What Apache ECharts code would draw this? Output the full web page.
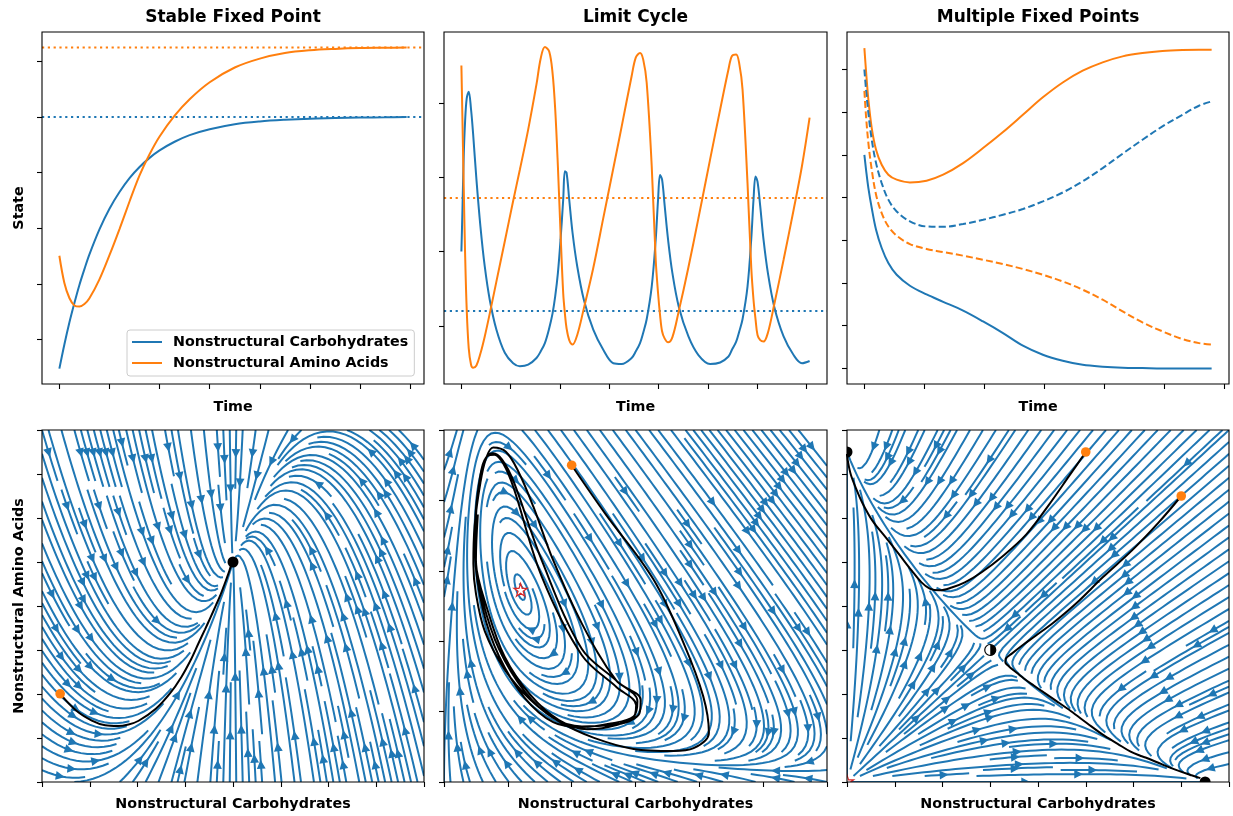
<!DOCTYPE html>
<html>
<head>
<meta charset="utf-8">
<script src="https://cdn.jsdelivr.net/npm/echarts@6/dist/echarts.min.js"></script>
<style>
  html, body { margin: 0; padding: 0; background: #ffffff; }
  #chart { width: 1233px; height: 816px; }
</style>
</head>
<body>
<div id="chart"></div>
<script>
// ---------- Stable fixed point: time course (time in tick units) ----------
const stableTime  = [0, 0.1, 0.2, 0.3, 0.4, 0.5, 0.6, 0.8, 1.0, 1.2, 1.4, 1.6, 1.8, 2.0, 2.3, 2.6, 3.0, 3.5, 4.0, 4.5, 5.0, 5.5, 6.0, 6.5, 6.93];
const stableCarb  = [0.095, 0.182, 0.261, 0.331, 0.396, 0.453, 0.506, 0.596, 0.670, 0.730, 0.780, 0.820, 0.853, 0.880, 0.911, 0.935, 0.956, 0.974, 0.984, 0.990, 0.994, 0.996, 0.998, 0.999, 1.0];
const stableAmino = [0.501, 0.403, 0.349, 0.322, 0.318, 0.327, 0.348, 0.416, 0.503, 0.597, 0.696, 0.790, 0.866, 0.930, 1.005, 1.064, 1.125, 1.178, 1.210, 1.230, 1.240, 1.245, 1.248, 1.249, 1.250];
const stableFixed = [1.0, 1.25];
const stableRates = [0.594, 1.482];

// ---------- Limit cycle: time course ----------
const cycleTime = [0, 0.020, 0.047, 0.075, 0.108, 0.149, 0.196, 0.237, 0.305, 0.386, 0.474, 0.576, 0.711, 0.881, 1.050, 1.186, 1.355, 1.524, 1.61,
  1.694, 1.782, 1.850, 1.904, 1.958, 2.012, 2.066, 2.100, 2.134, 2.188, 2.256, 2.351, 2.486, 2.676, 2.879, 3.083, 3.252, 3.455, 3.54, 3.625, 3.69, 3.760,
  3.862, 3.943, 3.991, 4.031, 4.072, 4.126, 4.194, 4.282, 4.411, 4.607, 4.810, 5.047, 5.251, 5.420, 5.49, 5.576, 5.64, 5.705, 5.806, 5.881, 5.928, 5.969,
  6.009, 6.064, 6.131, 6.220, 6.348, 6.538, 6.741, 6.911, 7.066];
const cycleCarb = [2.00, 2.52, 3.28, 3.75, 4.06, 4.15, 3.91, 3.59, 2.97, 2.34, 1.80, 1.35, 0.95, 0.64, 0.50, 0.46, 0.48, 0.57, 0.66,
  0.77, 0.97, 1.17, 1.40, 1.71, 2.16, 2.70, 3.08, 3.06, 2.70, 2.25, 1.80, 1.35, 0.95, 0.68, 0.50, 0.49, 0.57, 0.66, 0.77, 0.91, 1.09,
  1.53, 2.16, 2.70, 3.03, 2.97, 2.61, 2.16, 1.71, 1.26, 0.86, 0.61, 0.49, 0.51, 0.59, 0.68, 0.79, 0.93, 1.09, 1.53, 2.16, 2.70, 3.01,
  2.94, 2.61, 2.16, 1.71, 1.26, 0.86, 0.61, 0.50, 0.53];
const cycleAmino = [4.50, 3.82, 2.88, 1.98, 1.22, 0.70, 0.48, 0.44, 0.47, 0.63, 0.86, 1.17, 1.60, 2.14, 2.68, 3.10, 3.64, 4.25, 4.60,
  4.75, 4.69, 4.40, 3.91, 3.15, 2.25, 1.44, 1.17, 0.97, 0.81, 0.75, 0.88, 1.24, 1.78, 2.45, 3.12, 3.68, 4.36, 4.61, 4.67, 4.58, 4.27,
  3.15, 1.89, 1.44, 1.15, 0.93, 0.83, 0.78, 0.85, 1.20, 1.79, 2.45, 3.24, 3.91, 4.45, 4.63, 4.65, 4.52, 4.18, 2.92, 1.80, 1.35, 1.09,
  0.88, 0.81, 0.79, 0.91, 1.29, 1.89, 2.56, 3.15, 3.80];
const cycleFixed = [1.2, 2.72];
const cycleParams = [0.08, 0.6, 2];

// ---------- Multiple fixed points: two runs ----------
const multiTime   = [0, 0.028, 0.067, 0.123, 0.195, 0.289, 0.400, 0.539, 0.760, 1.038, 1.315, 1.648, 1.981, 2.314, 2.646, 2.979, 3.311, 3.644, 3.977, 4.310, 4.642, 4.975, 5.308, 5.585, 5.796];
const multiCarbA  = [1.25, 1.163, 1.056, 0.939, 0.812, 0.705, 0.617, 0.548, 0.484, 0.433, 0.390, 0.338, 0.275, 0.207, 0.133, 0.080, 0.045, 0.021, 0.010, 0.004, 0.002, 0, 0, 0, 0];
const multiAminoA = [1.875, 1.739, 1.573, 1.407, 1.280, 1.192, 1.134, 1.105, 1.089, 1.099, 1.134, 1.202, 1.290, 1.384, 1.485, 1.587, 1.674, 1.743, 1.792, 1.827, 1.846, 1.858, 1.864, 1.866, 1.866];
const multiCarbB  = [1.75, 1.632, 1.495, 1.339, 1.202, 1.085, 0.988, 0.919, 0.861, 0.831, 0.829, 0.845, 0.870, 0.900, 0.933, 0.978, 1.030, 1.095, 1.173, 1.257, 1.339, 1.417, 1.485, 1.538, 1.563];
const multiAminoB = [1.625, 1.475, 1.319, 1.163, 1.017, 0.909, 0.831, 0.777, 0.728, 0.699, 0.681, 0.660, 0.636, 0.611, 0.582, 0.548, 0.509, 0.461, 0.402, 0.334, 0.269, 0.217, 0.172, 0.148, 0.139];
const multiTailCarb  = [1.65, 1.73, 1.80, 1.85];
const multiTailAmino = [0.100, 0.066, 0.040, 0.022];
const multiNodes  = [[0, 1.875], [1.875, 0]];
const multiSaddle = [0.75, 0.75];
const multiOrigin = [0, 0];
const multiParams = [1.875, 1.5];

// ---------- tick positions ----------
const ticksStableT = [0, 1, 2, 3, 4, 5, 6, 7];
const ticksStableY = [0.2, 0.4, 0.6, 0.8, 1.0, 1.2];
const ticksCycleT  = [0, 1, 2, 3, 4, 5, 6, 7];
const ticksCycleY  = [1, 2, 3, 4];
const ticksMultiT  = [0, 1, 2, 3, 4, 5, 6];
const ticksQuarter = [0, 0.25, 0.5, 0.75, 1, 1.25, 1.5, 1.75, 2];
const ticksCycleX  = [0, 1, 2, 3, 4, 5, 6];
const ticksCycleA  = [0, 1, 2, 3, 4, 5];

const BLUE = '#1f77b4', ORANGE = '#ff7f0e', RED = '#d62728';
const FONT = 'DejaVu Sans';
const LABEL_SIZE = 14.3;

// ---------- rate equations [dC/dt, dA/dt] ----------
function stableField(c, a) {
  return [stableRates[0] * (stableFixed[0] - c),
          stableRates[1] * (c - stableFixed[0]) - (a - stableFixed[1])];
}
function cycleField(c, a) {
  const [k, b, s] = cycleParams;
  const q = c * c * a / (s * s);
  return [-c + k * a + q, s * b - k * a - q];
}
function multiField(c, a) {
  const [K, r] = multiParams;
  return [c * (1 - (c + r * a) / K), a * (1 - (a + r * c) / K)];
}

// ---------- streamline tracer (mask-based, one arrow per line) ----------
function streamplot(field, xr, yr, density) {
  const n = Math.round(30 * density);
  const mask = new Uint8Array(n * n);
  const maxds = Math.min(1 / n, 0.1), maxerr = 0.003, maxlen = 4, minlen = 0.1;
  const sx = xr[1] - xr[0], sy = yr[1] - yr[0];
  const inside = (a, b) => a >= 0 && a <= 1 && b >= 0 && b <= 1;
  function dir(a, b, sgn) {
    const f = field(xr[0] + a * sx, yr[0] + b * sy);
    const u = f[0] / sx, v = f[1] / sy, sp = Math.hypot(u, v);
    if (!(sp > 0) || !isFinite(sp)) return null;
    return [sgn * u / sp, sgn * v / sp];
  }
  let traj = [], cur = [-1, -1];
  function visit(a, b) {
    const xm = Math.round(a * (n - 1)), ym = Math.round(b * (n - 1));
    if (xm === cur[0] && ym === cur[1]) return true;
    const k = ym * n + xm;
    if (mask[k]) return false;
    mask[k] = 1; traj.push(k); cur = [xm, ym];
    return true;
  }
  function rk12(a, b, sgn) {
    const out = [];
    let ds = maxds, total = 0, guard = 0;
    while (inside(a, b) && guard++ < 20000) {
      out.push([a, b]);
      const k1 = dir(a, b, sgn);
      if (!k1) break;
      const a1 = a + ds * k1[0], b1 = b + ds * k1[1];
      if (!inside(a1, b1)) {
        const ta = k1[0] > 0 ? (1 - a) / k1[0] : (k1[0] < 0 ? -a / k1[0] : Infinity);
        const tb = k1[1] > 0 ? (1 - b) / k1[1] : (k1[1] < 0 ? -b / k1[1] : Infinity);
        const s = Math.min(ta, tb);
        out.push([a + s * k1[0], b + s * k1[1]]);
        total += s;
        break;
      }
      const k2 = dir(a1, b1, sgn);
      if (!k2) break;
      const dx1 = ds * k1[0], dy1 = ds * k1[1];
      const dx2 = ds * 0.5 * (k1[0] + k2[0]), dy2 = ds * 0.5 * (k1[1] + k2[1]);
      const err = Math.hypot(dx2 - dx1, dy2 - dy1);
      if (err < maxerr) {
        a += dx2; b += dy2;
        if (!inside(a, b) || !visit(a, b)) break;
        if (total + ds > maxlen) break;
        total += ds;
      }
      ds = err === 0 ? maxds : Math.min(maxds, 0.85 * ds * Math.sqrt(maxerr / err));
    }
    return [total, out];
  }
  function integrate(a0, b0) {
    traj = []; cur = [-1, -1];
    if (!visit(a0, b0)) return null;
    const [s1, back] = rk12(a0, b0, -1);
    cur = [Math.round(a0 * (n - 1)), Math.round(b0 * (n - 1))];
    const [s2, fwd] = rk12(a0, b0, 1);
    if (s1 + s2 > minlen) return back.reverse().concat(fwd.slice(1));
    traj.forEach(k => { mask[k] = 0; });
    return null;
  }
  const raw = [];
  let x = 0, y = 0, xf = 0, yf = 1, xl = n - 1, yl = n - 1, d = 0;
  for (let i = 0; i < n * n; i++) {
    if (!mask[y * n + x]) {
      const t = integrate(x / (n - 1), y / (n - 1));
      if (t && t.length > 1) raw.push(t);
    }
    if (d === 0) { x++; if (x >= xl) { xl--; d = 1; } }
    else if (d === 1) { y++; if (y >= yl) { yl--; d = 2; } }
    else if (d === 2) { x--; if (x <= xf) { xf++; d = 3; } }
    else { y--; if (y <= yf) { yf++; d = 0; } }
  }
  return raw.map(t => {
    const pts = t.map(p => [xr[0] + p[0] * sx, yr[0] + p[1] * sy]);
    const cum = [];
    let acc = 0;
    for (let i = 1; i < pts.length; i++) {
      acc += Math.hypot(pts[i][0] - pts[i - 1][0], pts[i][1] - pts[i - 1][1]);
      cum.push(acc);
    }
    let k = cum.findIndex(s => s >= acc / 2);
    if (k < 0) k = 0;
    const tail = pts[k];
    const nxt = pts[Math.min(k + 1, pts.length - 1)];
    const head = [(tail[0] + nxt[0]) / 2, (tail[1] + nxt[1]) / 2];
    return { pts, tail, head };
  });
}

const streamStable = streamplot(stableField, [0, 2], [0, 2], 2);
const streamCycle  = streamplot(cycleField, [0, 6], [0, 5], 2);
const streamMulti  = streamplot(multiField, [0, 2], [0, 2], 2);

// ---------- series helpers ----------
function streamSeries(gi, lines) {
  return {
    type: 'custom', xAxisIndex: gi, yAxisIndex: gi, clip: true, silent: true, z: 2,
    data: lines.map((l, i) => [l.head[0], l.head[1], i]),
    encode: { x: 0, y: 1 },
    renderItem(params, api) {
      const l = lines[api.value(2)];
      const pts = l.pts.map(p => api.coord(p));
      const t = api.coord(l.tail), h = api.coord(l.head);
      let dx = h[0] - t[0], dy = h[1] - t[1];
      const len = Math.hypot(dx, dy);
      const children = [{
        type: 'polyline', shape: { points: pts },
        style: { stroke: BLUE, lineWidth: 2, fill: 'none' }
      }];
      if (len > 1e-6) {
        dx /= len; dy /= len;
        const L = 6.5, W = 3.2;
        const bx = h[0] - dx * L, by = h[1] - dy * L;
        children.push({
          type: 'polygon',
          shape: { points: [[h[0], h[1]], [bx - dy * W, by + dx * W], [bx + dy * W, by - dx * W]] },
          style: { fill: BLUE, stroke: BLUE, lineWidth: 1.5, lineJoin: 'miter' }
        });
      }
      return { type: 'group', children };
    }
  };
}

function starPoints(cx, cy, r) {
  const pts = [];
  for (let i = 0; i < 10; i++) {
    const rr = i % 2 === 0 ? r : r * 0.382;
    const ang = -Math.PI / 2 + i * Math.PI / 5;
    pts.push([cx + rr * Math.cos(ang), cy + rr * Math.sin(ang)]);
  }
  return pts;
}

function markerSeries(gi, items) {
  return {
    type: 'custom', xAxisIndex: gi, yAxisIndex: gi, clip: true, silent: true, z: 6,
    data: items.map((m, i) => [m.pos[0], m.pos[1], i]),
    encode: { x: 0, y: 1 },
    renderItem(params, api) {
      const m = items[api.value(2)];
      const p = api.coord(m.pos);
      if (m.kind === 'dot') {
        return { type: 'circle', shape: { cx: p[0], cy: p[1], r: m.r }, style: { fill: m.color, stroke: 'none' } };
      }
      if (m.kind === 'star') {
        return { type: 'polygon', shape: { points: starPoints(p[0], p[1], m.r) },
                 style: { fill: '#ffffff', stroke: RED, lineWidth: 1.2, lineJoin: 'miter' } };
      }
      // half-filled saddle marker
      return { type: 'group', children: [
        { type: 'circle', shape: { cx: p[0], cy: p[1], r: m.r }, style: { fill: '#ffffff', stroke: 'none' } },
        { type: 'sector', shape: { cx: p[0], cy: p[1], r0: 0, r: m.r, startAngle: -Math.PI / 2, endAngle: Math.PI / 2, clockwise: true },
          style: { fill: '#000000', stroke: 'none' } },
        { type: 'circle', shape: { cx: p[0], cy: p[1], r: m.r }, style: { fill: 'none', stroke: '#000000', lineWidth: 1.2 } }
      ] };
    }
  };
}

function curve(gi, xs, ys, color, name, dashed) {
  return {
    type: 'line', name, xAxisIndex: gi, yAxisIndex: gi,
    data: xs.map((x, i) => [x, ys[i]]),
    showSymbol: false, symbol: 'none', smooth: 0.35,
    lineStyle: { color, width: 2, type: dashed ? [7, 3.2] : 'solid' },
    itemStyle: { color }, silent: true, z: 3
  };
}

function refLine(gi, xr, value, color) {
  return {
    type: 'line', xAxisIndex: gi, yAxisIndex: gi,
    data: [[xr[0], value], [xr[1], value]],
    showSymbol: false, symbol: 'none',
    lineStyle: { color, width: 2, type: [2.2, 3.6] }, silent: true, z: 2
  };
}

// ---------- layout ----------
const grids = [
  { left: 42,  top: 32,  width: 382, height: 352 },
  { left: 444, top: 32,  width: 383, height: 352 },
  { left: 847, top: 32,  width: 382, height: 352 },
  { left: 42,  top: 430, width: 382, height: 352 },
  { left: 444, top: 430, width: 383, height: 352 },
  { left: 847, top: 430, width: 382, height: 352 }
].map(g => Object.assign({ show: true, borderColor: '#000000', borderWidth: 1.1, backgroundColor: 'transparent', z: 10 }, g));

const nameStyle = { fontFamily: FONT, fontWeight: 'bold', fontSize: LABEL_SIZE, color: '#000000' };
function axis(gi, range, ticks, name) {
  return {
    gridIndex: gi, type: 'value', min: range[0], max: range[1],
    axisLine: { show: false, onZero: false },
    axisTick: { show: true, length: 5, customValues: ticks, lineStyle: { color: '#000000', width: 1.1 } },
    axisLabel: { show: false, customValues: ticks },
    splitLine: { show: false },
    name: name || '', nameLocation: 'middle', nameGap: 16, nameTextStyle: nameStyle
  };
}

const xrStable = [-0.3465, 7.2765], xrCycle = [-0.353, 7.419], xrMulti = [-0.29, 6.086];

const xAxes = [
  axis(0, xrStable, ticksStableT, 'Time'),
  axis(1, xrCycle, ticksCycleT, 'Time'),
  axis(2, xrMulti, ticksMultiT, 'Time'),
  Object.assign(axis(3, [0, 2], ticksQuarter, 'Nonstructural Carbohydrates'), { nameGap: 15.5 }),
  Object.assign(axis(4, [0, 6], ticksCycleX, 'Nonstructural Carbohydrates'), { nameGap: 15.5 }),
  Object.assign(axis(5, [0, 2], ticksQuarter, 'Nonstructural Carbohydrates'), { nameGap: 15.5 })
];
const yAxes = [
  Object.assign(axis(0, [0.0396, 1.3058], ticksStableY, 'State'), { nameGap: 15.5 }),
  axis(1, [0.2204, 4.9516], ticksCycleY),
  axis(2, [-0.0913, 1.9696], ticksQuarter.slice(0, 8)),
  Object.assign(axis(3, [0, 2], ticksQuarter, 'Nonstructural Amino Acids'), { nameGap: 15.5 }),
  axis(4, [0, 5], ticksCycleA),
  axis(5, [0, 2], ticksQuarter)
];

const titleStyle = { fontFamily: FONT, fontWeight: 'bold', fontSize: 17, color: '#000000' };
const titles = [
  { text: 'Stable Fixed Point', left: 233 },
  { text: 'Limit Cycle', left: 635.5 },
  { text: 'Multiple Fixed Points', left: 1038 }
].map(t => Object.assign({ top: 9.5, textAlign: 'center', textVerticalAlign: 'top', padding: 0, textStyle: titleStyle }, t));

const series = [
  // top row: time courses
  refLine(0, xrStable, stableFixed[0], BLUE),
  refLine(0, xrStable, stableFixed[1], ORANGE),
  curve(0, stableTime, stableCarb, BLUE, 'Nonstructural Carbohydrates', false),
  curve(0, stableTime, stableAmino, ORANGE, 'Nonstructural Amino Acids', false),

  refLine(1, xrCycle, cycleFixed[0], BLUE),
  refLine(1, xrCycle, cycleFixed[1], ORANGE),
  curve(1, cycleTime, cycleCarb, BLUE, 'cycle carbohydrates', false),
  curve(1, cycleTime, cycleAmino, ORANGE, 'cycle amino acids', false),

  curve(2, multiTime, multiCarbA, BLUE, 'run A carbohydrates', false),
  curve(2, multiTime, multiAminoA, ORANGE, 'run A amino acids', false),
  curve(2, multiTime, multiCarbB, BLUE, 'run B carbohydrates', true),
  curve(2, multiTime, multiAminoB, ORANGE, 'run B amino acids', true),

  // bottom row: phase planes
  streamSeries(3, streamStable),
  curve(3, stableCarb, stableAmino, '#000000', 'stable path', false),
  markerSeries(3, [
    { kind: 'dot', pos: [stableCarb[0], stableAmino[0]], r: 4.8, color: ORANGE },
    { kind: 'dot', pos: stableFixed, r: 5.5, color: '#000000' }
  ]),

  streamSeries(4, streamCycle),
  curve(4, cycleCarb, cycleAmino, '#000000', 'cycle path', false),
  markerSeries(4, [
    { kind: 'dot', pos: [cycleCarb[0], cycleAmino[0]], r: 4.8, color: ORANGE },
    { kind: 'star', pos: cycleFixed, r: 7 }
  ]),

  streamSeries(5, streamMulti),
  curve(5, multiCarbA, multiAminoA, '#000000', 'run A path', false),
  curve(5, multiCarbB.concat(multiTailCarb), multiAminoB.concat(multiTailAmino), '#000000', 'run B path', false),
  markerSeries(5, [
    { kind: 'star', pos: multiOrigin, r: 7 },
    { kind: 'dot', pos: multiNodes[0], r: 5.5, color: '#000000' },
    { kind: 'dot', pos: multiNodes[1], r: 5.5, color: '#000000' },
    { kind: 'half', pos: multiSaddle, r: 5.5 },
    { kind: 'dot', pos: [multiCarbA[0], multiAminoA[0]], r: 4.8, color: ORANGE },
    { kind: 'dot', pos: [multiCarbB[0], multiAminoB[0]], r: 4.8, color: ORANGE }
  ])
];

const chart = echarts.init(document.getElementById('chart'), null, { renderer: 'canvas' });
chart.setOption({
  animation: false,
  backgroundColor: '#ffffff',
  textStyle: { fontFamily: FONT },
  title: titles,
  legend: {
    data: ['Nonstructural Carbohydrates', 'Nonstructural Amino Acids'],
    orient: 'vertical', left: 127, top: 330,
    itemWidth: 30, itemHeight: 2, itemGap: 7, icon: 'rect',
    padding: [5, 6, 6, 5],
    backgroundColor: 'rgba(255,255,255,0.8)', borderColor: '#cccccc', borderWidth: 1, borderRadius: 3,
    selectedMode: false,
    textStyle: { fontFamily: FONT, fontWeight: 'bold', fontSize: LABEL_SIZE, color: '#000000', padding: [0, 0, 0, 6] }
  },
  grid: grids,
  xAxis: xAxes,
  yAxis: yAxes,
  series
});
</script>
</body>
</html>
